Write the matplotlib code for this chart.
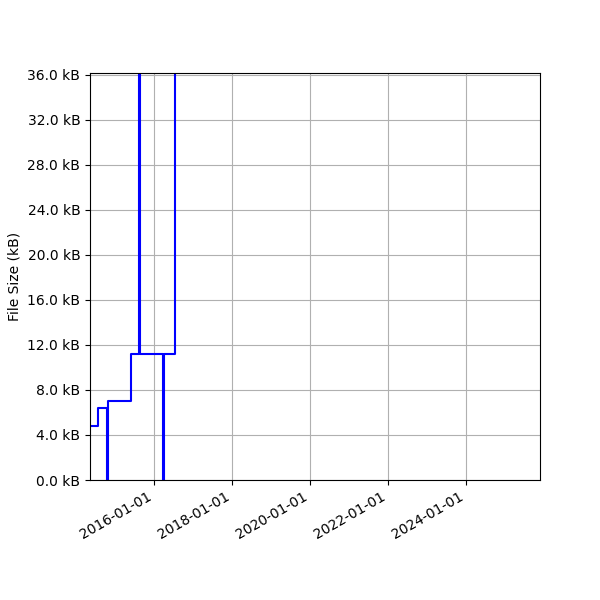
import matplotlib
matplotlib.use("Agg")
import matplotlib.pyplot as plt
import matplotlib.dates as mdates
import matplotlib.ticker as mticker
import numpy as np
import pandas as pd

dates = pd.to_datetime([
    "2014-05-15", "2014-07-29", "2014-10-20", "2014-10-29",
    "2015-06-03", "2015-08-16", "2015-08-26", "2016-03-29",
    "2016-04-07", "2016-07-23", "2016-08-01",
])
sizes_bytes = [
    4800, 6400, 0, 7020,
    11200, 60000, 11200, 0,
    11200, 60000, 60000,
]
x_limits = pd.to_datetime(["2014-05-15", "2025-11-25"])
y_ticks = np.arange(0, 36001, 4000)

fig = plt.figure(figsize=(6, 6), dpi=100)
ax = fig.add_axes([0.15, 0.2, 0.75, 0.678])
ax.plot(dates, sizes_bytes, drawstyle="steps-post", color="blue", lw=1.5)
ax.set_xlim(x_limits[0], x_limits[1])
ax.set_ylim(0, 36150)
ax.set_yticks(y_ticks)
ax.yaxis.set_major_formatter(mticker.FuncFormatter(lambda v, p: f"{v/1000:.1f} kB"))
ax.xaxis.set_major_locator(mdates.YearLocator(2))
ax.xaxis.set_major_formatter(mdates.DateFormatter("%Y-%m-%d"))
ax.set_ylabel("File Size (kB)")
ax.grid(True, color="#b0b0b0")
for lbl in ax.get_xticklabels():
    lbl.set_rotation(30)
    lbl.set_ha("right")
fig.savefig("out.png", dpi=100)
